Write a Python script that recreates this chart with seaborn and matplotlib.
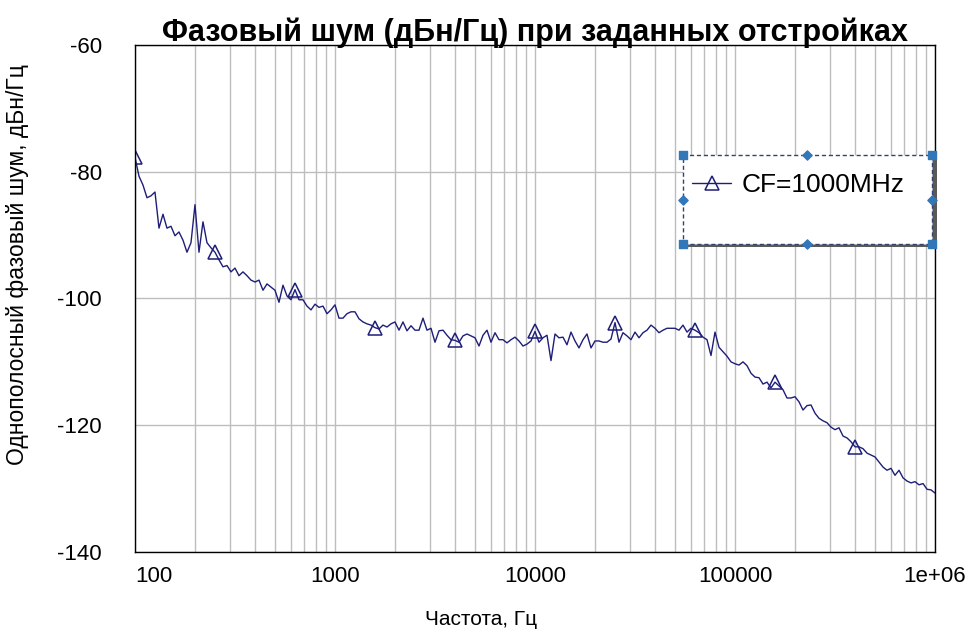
"""
Phase noise of the 1000 MHz synthesizer vs offset frequency
"""
from matplotlib import rcParams
from matplotlib.patches import Rectangle
from matplotlib.pyplot import close as figure_close
from matplotlib.pyplot import savefig
from matplotlib.pyplot import subplots
from matplotlib.ticker import LogLocator
from matplotlib.ticker import NullFormatter
from numpy import logspace
from pandas import DataFrame
from seaborn import lineplot
from seaborn import set_style

TITLE = 'Фазовый шум (дБн/Гц) при заданных отстройках'
X_LABEL = 'Частота, Гц'
Y_LABEL = 'Однополосный фазовый шум, дБн/Гц'
SERIES_NAME = 'CF=1000MHz'

X_TICKS = [100, 1000, 10000, 100000, 1000000]
X_TICK_LABELS = ['100', '1000', '10000', '100000', '1e+06']
Y_TICKS = [-140, -120, -100, -80, -60]

# sweep points: 50 per decade from 100 Hz to 1 MHz
OFFSET_HZ = logspace(2, 6, 201)

# SSB phase noise, dBc/Hz
NOISE_DBC = [
    -77.7, -80.7, -82.1, -84.1, -83.8, -83.2, -88.9, -86.7, -88.9, -88.6,
    -90.1, -89.5, -90.8, -92.7, -91.2, -85.2, -92.7, -87.9, -91.2, -92.0,
    -92.7, -93.9, -95.0, -94.8, -95.8, -95.2, -96.4, -95.8, -96.4, -97.1,
    -97.4, -97.1, -98.7, -97.7, -98.2, -98.7, -100.6, -97.9, -99.6, -100.2,
    -98.6, -100.2, -100.2, -101.2, -101.8, -100.9, -101.4, -101.2, -102.4, -101.8,
    -101.0, -103.1, -103.1, -102.4, -102.1, -102.1, -103.2, -103.7, -104.0, -104.2,
    -104.6, -104.8, -104.2, -104.5, -104.0, -103.7, -105.0, -103.7, -105.1, -104.3,
    -105.0, -105.0, -103.1, -105.0, -104.7, -106.9, -105.1, -105.0, -105.8, -106.5,
    -106.6, -106.9, -105.9, -105.6, -105.9, -106.2, -107.5, -105.8, -105.0, -106.9,
    -105.4, -106.5, -106.5, -107.0, -106.5, -106.1, -106.7, -107.5, -107.2, -106.7,
    -105.2, -106.9, -106.2, -105.8, -109.8, -105.6, -106.2, -106.1, -107.3, -105.3,
    -106.7, -107.8, -106.5, -105.6, -107.8, -106.7, -106.7, -106.9, -106.9, -106.4,
    -103.8, -106.9, -105.4, -105.9, -106.5, -105.3, -106.2, -105.4, -105.0, -104.2,
    -104.7, -105.4, -105.0, -104.7, -104.7, -104.7, -105.0, -104.2, -105.3, -104.7,
    -105.0, -105.4, -106.1, -106.5, -109.0, -105.3, -107.7, -108.4, -109.1, -110.0,
    -110.3, -110.5, -110.0, -110.6, -111.8, -112.4, -112.5, -113.5, -113.2, -114.1,
    -113.2, -113.8, -114.4, -115.7, -115.7, -115.5, -116.3, -117.6, -116.9, -116.8,
    -118.1, -118.9, -119.3, -119.6, -120.3, -120.7, -120.4, -121.7, -122.0, -122.6,
    -123.4, -123.4, -123.7, -124.4, -124.7, -125.0, -125.8, -126.6, -127.1, -126.8,
    -127.9, -127.1, -128.3, -128.8, -129.1, -128.9, -129.4, -129.2, -130.1, -130.2,
    -130.7,
]

# a marker is drawn on every 20th sweep point
MARKER_EVERY = list(range(0, 181, 20))

DPI = 100
FIGSIZE = (9.76, 6.4)
LINE_COLOR = '#1e1e78'
GRID_COLOR = '#bdbdbd'
HANDLE_COLOR = '#3278b8'
FONT = ['Liberation Sans', 'DejaVu Sans']

if __name__ == '__main__':
    set_style('white')
    rcParams['font.family'] = FONT
    rcParams['text.color'] = 'black'
    rcParams['axes.labelcolor'] = 'black'

    df = DataFrame({'offset': OFFSET_HZ, 'noise': NOISE_DBC})

    fig, ax = subplots(figsize=FIGSIZE, dpi=DPI)
    fig.subplots_adjust(left=0.1383, right=0.958, bottom=0.1375, top=0.9297)

    lineplot(data=df, x='offset', y='noise', ax=ax, color=LINE_COLOR, linewidth=1.0,
             marker='^', markersize=10, markerfacecolor='none', markeredgecolor=LINE_COLOR,
             markeredgewidth=1.1, markevery=MARKER_EVERY, label=SERIES_NAME)

    ax.set_xscale('log')
    ax.set_xlim(X_TICKS[0], X_TICKS[-1])
    ax.set_ylim(Y_TICKS[0], Y_TICKS[-1])
    ax.set_xticks(X_TICKS)
    ax.set_xticklabels(X_TICK_LABELS)
    ax.xaxis.set_minor_locator(LogLocator(base=10, subs=range(2, 10)))
    ax.xaxis.set_minor_formatter(NullFormatter())
    ax.set_yticks(Y_TICKS)
    ax.set_yticklabels([str(v) for v in Y_TICKS])
    ax.get_xticklabels()[0].set_horizontalalignment('left')

    ax.grid(which='major', axis='both', color=GRID_COLOR, linewidth=1.0)
    ax.grid(which='minor', axis='x', color=GRID_COLOR, linewidth=1.0)
    ax.set_axisbelow(True)
    ax.tick_params(axis='both', which='both', length=0, labelsize=16, colors='black')
    ax.tick_params(axis='y', pad=24)
    ax.tick_params(axis='x', pad=10)
    for spine in ax.spines.values():
        spine.set_color('black')
        spine.set_linewidth(1.0)

    ax.set_title(TITLE, fontsize=22, fontweight='bold', pad=3, color='black')
    ax.set_xlabel(X_LABEL, fontsize=15)
    ax.xaxis.set_label_coords(0.4325, -0.115)
    ax.set_ylabel(Y_LABEL, fontsize=16.5)
    ax.yaxis.set_label_coords(-0.133, 0.566)

    # legend frame as shown in the editor: white box, dark shadow, selection handles
    box_x0, box_y0, box_w, box_h = 0.6846, 0.6075, 0.3115, 0.1755
    shadow = Rectangle((box_x0 + 0.007, box_y0 - 0.006), box_w, box_h, transform=ax.transAxes,
                       facecolor='#5a5a5a', edgecolor='none', clip_on=False, zorder=4)
    box = Rectangle((box_x0, box_y0), box_w, box_h, transform=ax.transAxes, facecolor='white',
                    edgecolor='#30456e', linewidth=1.0, linestyle=(0, (3, 2)), clip_on=False, zorder=4.5)
    ax.add_patch(shadow)
    ax.add_patch(box)
    corners_x = [box_x0, box_x0 + box_w, box_x0, box_x0 + box_w]
    corners_y = [box_y0, box_y0, box_y0 + box_h, box_y0 + box_h]
    ax.scatter(corners_x, corners_y, marker='s', s=26, color=HANDLE_COLOR, transform=ax.transAxes,
               clip_on=False, zorder=5)
    mids_x = [box_x0 + box_w / 2, box_x0 + box_w / 2, box_x0, box_x0 + box_w]
    mids_y = [box_y0, box_y0 + box_h, box_y0 + box_h / 2, box_y0 + box_h / 2]
    ax.scatter(mids_x, mids_y, marker='D', s=22, color=HANDLE_COLOR, transform=ax.transAxes,
               clip_on=False, zorder=5)

    legend = ax.legend(loc='center left', bbox_to_anchor=(0.696, 0.724), frameon=False, fontsize=19,
                       handlelength=1.5, handletextpad=0.4, borderpad=0, borderaxespad=0)
    legend.set_zorder(6)

    savefig('out.png', dpi=DPI)
    figure_close(fig=fig)
